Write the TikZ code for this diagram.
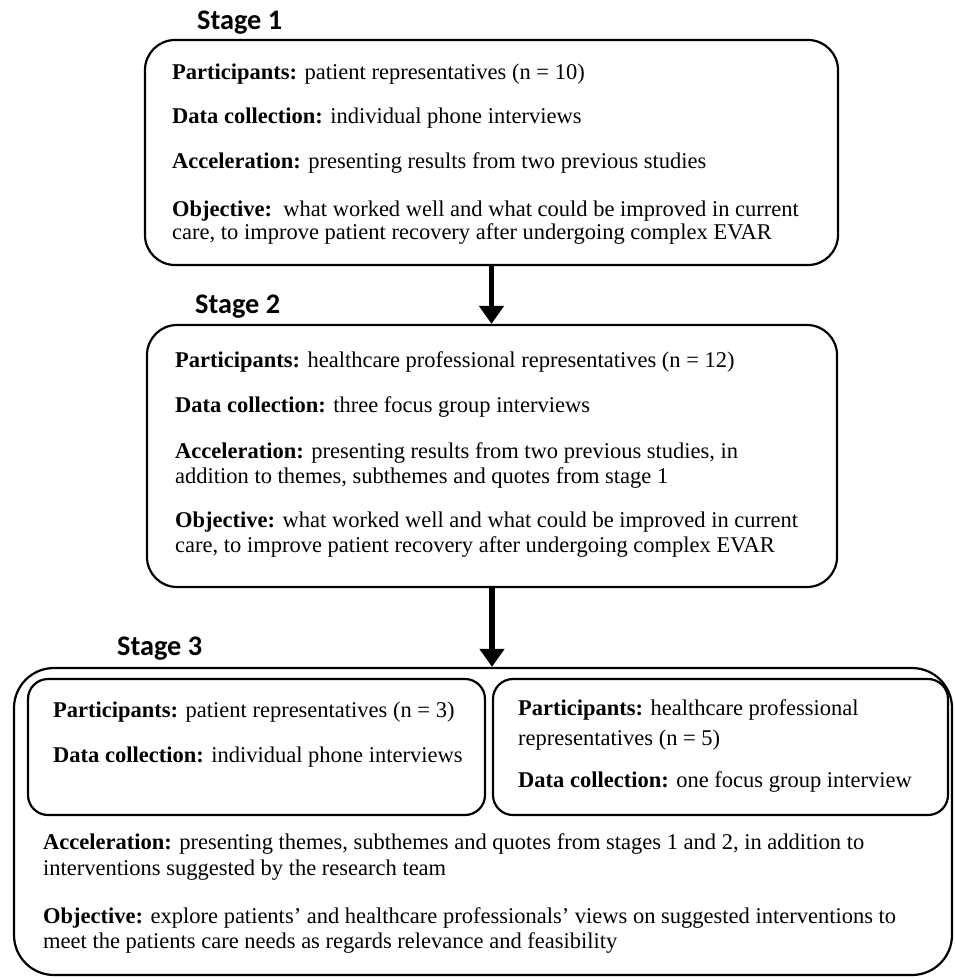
\documentclass[tikz,border=0pt]{standalone}
\usepackage{fontspec}
\setmainfont{Liberation Serif}
\newfontfamily\stagefont{Carlito}
\usetikzlibrary{arrows.meta}
\tikzset{
  box/.style={draw, line width=2.2pt, rounded corners=30pt, inner sep=0pt},
  inbox/.style={draw, line width=2.2pt, rounded corners=20pt, inner sep=0pt},
  txt/.style={anchor=base west, inner sep=0pt, font=\fontsize{22.5}{27}\selectfont},
  stagelbl/.style={anchor=base west, inner sep=0pt, font=\stagefont\bfseries\fontsize{28.3}{34}\selectfont},
  arr/.style={line width=5.5pt, -{Triangle[width=24pt,length=18pt]}}
}
\begin{document}
\begin{tikzpicture}[x=1pt,y=-1pt]
\useasboundingbox (0,0) rectangle (954,979);
% boxes
\node[box, minimum width=693pt, minimum height=225pt] (b1) at (491.5,152.5) {};
\node[box, minimum width=690pt, minimum height=262pt] (b2) at (492,456) {};
\node[box, rounded corners=40pt, minimum width=938pt, minimum height=307pt] (b3) at (483,821.5) {};
\node[inbox, minimum width=457pt, minimum height=136pt] (b3a) at (256.5,747) {};
\node[inbox, minimum width=455pt, minimum height=136pt] (b3b) at (720.5,747) {};
% stage labels
\node[stagelbl] (s1) at (197,30) {Stage 1};
\node[stagelbl] (s2) at (195,313) {Stage 2};
\node[stagelbl] (s3) at (117,655) {Stage 3};
% arrows
\draw[arr] (b1.south) -- (b1.south |- b2.north);
\draw[arr] (b2.south) -- (b2.south |- b3.north);
% stage 1 text
\node[txt] (t11) at (172,80) {\textbf{Participants:} patient representatives (n = 10)};
\node[txt] (t12) at (172,124) {\textbf{Data collection:} individual phone interviews};
\node[txt] (t13) at (172,168) {\textbf{Acceleration:} presenting results from two previous studies};
\node[txt] (t14) at (172,216) {\textbf{Objective:}\ \ what worked well and what could be improved in current};
\node[txt] (t15) at (172,239) {care, to improve patient recovery after undergoing complex EVAR};
% stage 2 text
\node[txt] (t21) at (175,367) {\textbf{Participants:} healthcare professional representatives (n = 12)};
\node[txt] (t22) at (175,412) {\textbf{Data collection:} three focus group interviews};
\node[txt] (t23) at (175,458) {\textbf{Acceleration:} presenting results from two previous studies, in};
\node[txt] (t24) at (175,483) {addition to themes, subthemes and quotes from stage 1};
\node[txt] (t25) at (175,527) {\textbf{Objective:} what worked well and what could be improved in current};
\node[txt] (t26) at (175,552) {care, to improve patient recovery after undergoing complex EVAR};
% stage 3 text
\node[txt] (t31) at (53,717) {\textbf{Participants:} patient representatives (n = 3)};
\node[txt] (t32) at (53,762) {\textbf{Data collection:} individual phone interviews};
\node[txt] (t33) at (518,715) {\textbf{Participants:} healthcare professional};
\node[txt] (t34) at (518,745) {representatives (n = 5)};
\node[txt] (t35) at (518,787) {\textbf{Data collection:} one focus group interview};
\node[txt] (t36) at (43,849) {\textbf{Acceleration:} presenting themes, subthemes and quotes from stages 1 and 2, in addition to};
\node[txt] (t37) at (43,875) {interventions suggested by the research team};
\node[txt] (t38) at (43,923) {\textbf{Objective:} explore patients’ and healthcare professionals’ views on suggested interventions to};
\node[txt] (t39) at (43,948) {meet the patients care needs as regards relevance and feasibility};
\end{tikzpicture}
\end{document}
